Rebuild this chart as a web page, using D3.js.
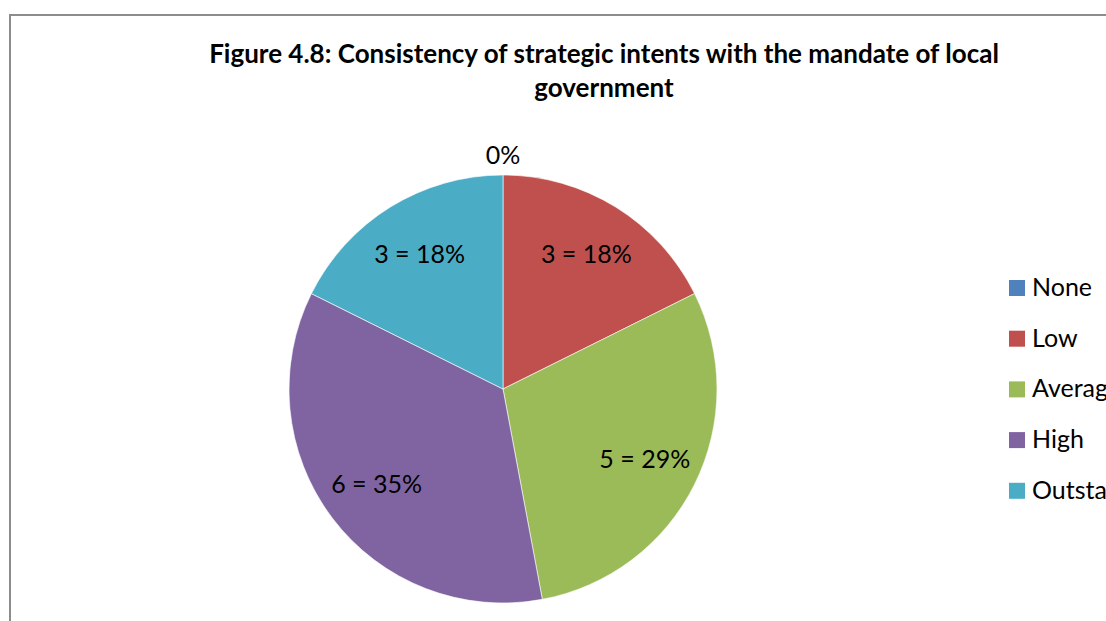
<!DOCTYPE html>
<html>
<head>
<meta charset="utf-8">
<script src="https://cdn.jsdelivr.net/npm/d3@7"></script>
<style>
  body { margin: 0; background: #fff; }
  svg { display: block; }
</style>
</head>
<body>
<div id="chart"></div>
<script>
// chart data
const categories = ["None", "Low", "Average", "High", "Outstanding"];
const counts = [0, 3, 5, 6, 3];
const colors = ["#4F81BD", "#C0504D", "#9BBB59", "#8064A2", "#4BACC6"];
const titleLines = ["Figure 4.8: Consistency of strategic intents with the mandate of local", "government"];

const W = 1106, H = 621;
const FONT = "Lato, 'Open Sans', sans-serif";
const CX = 503, CY = 389, R = 214;

const svg = d3.select("#chart").append("svg")
  .attr("width", W)
  .attr("height", H);

// chart area frame (runs off the right and bottom edge, as in the source)
svg.append("rect")
  .attr("x", 10).attr("y", 15)
  .attr("width", 1200).attr("height", 700)
  .attr("fill", "#fff")
  .attr("stroke", "#8c8c8c")
  .attr("stroke-width", 2);

// title
svg.append("g").selectAll("text")
  .data(titleLines)
  .join("text")
    .attr("x", 604)
    .attr("y", (d, i) => 63 + i * 34)
    .attr("text-anchor", "middle")
    .style("font-family", FONT)
    .style("font-weight", "bold")
    .style("font-size", "26px")
    .attr("fill", "#000")
    .text(d => d);

const data = categories.map((c, i) => ({ cat: c, n: counts[i], color: colors[i] }));
const total = d3.sum(counts);

const pie = d3.pie().value(d => d.n).sort(null);
const arcs = pie(data);
const arc = d3.arc().innerRadius(0).outerRadius(R);
const labelArc = d3.arc().innerRadius(R * 0.74).outerRadius(R * 0.74);
const outerArc = d3.arc().innerRadius(R + 20).outerRadius(R + 20);

const g = svg.append("g").attr("transform", `translate(${CX}, ${CY})`);

g.selectAll("path")
  .data(arcs)
  .join("path")
    .attr("d", arc)
    .attr("fill", d => d.data.color)
    .attr("stroke", "#fff")
    .attr("stroke-width", 0.6);

const fmt = d => Math.round(d.data.n / total * 100) + "%";

g.selectAll("text.lbl")
  .data(arcs)
  .join("text")
    .attr("class", "lbl")
    .attr("transform", d => {
      const p = d.data.n === 0 ? outerArc.centroid(d) : labelArc.centroid(d);
      return `translate(${p})`;
    })
    .attr("text-anchor", "middle")
    .attr("dy", "0.35em")
    .style("font-family", FONT)
    .style("font-size", "25px")
    .attr("fill", "#000")
    .text(d => d.data.n === 0 ? fmt(d) : `${d.data.n} = ${fmt(d)}`);

// legend
const legend = svg.append("g").attr("transform", "translate(1009, 280)");
const item = legend.selectAll("g")
  .data(data)
  .join("g")
    .attr("transform", (d, i) => `translate(0, ${i * 50.7})`);

item.append("rect")
  .attr("width", 16).attr("height", 16)
  .attr("fill", d => d.color);

item.append("text")
  .attr("x", 23).attr("y", 16)
  .style("font-family", FONT)
  .style("font-size", "25px")
  .attr("fill", "#000")
  .text(d => d.cat);
</script>
</body>
</html>
